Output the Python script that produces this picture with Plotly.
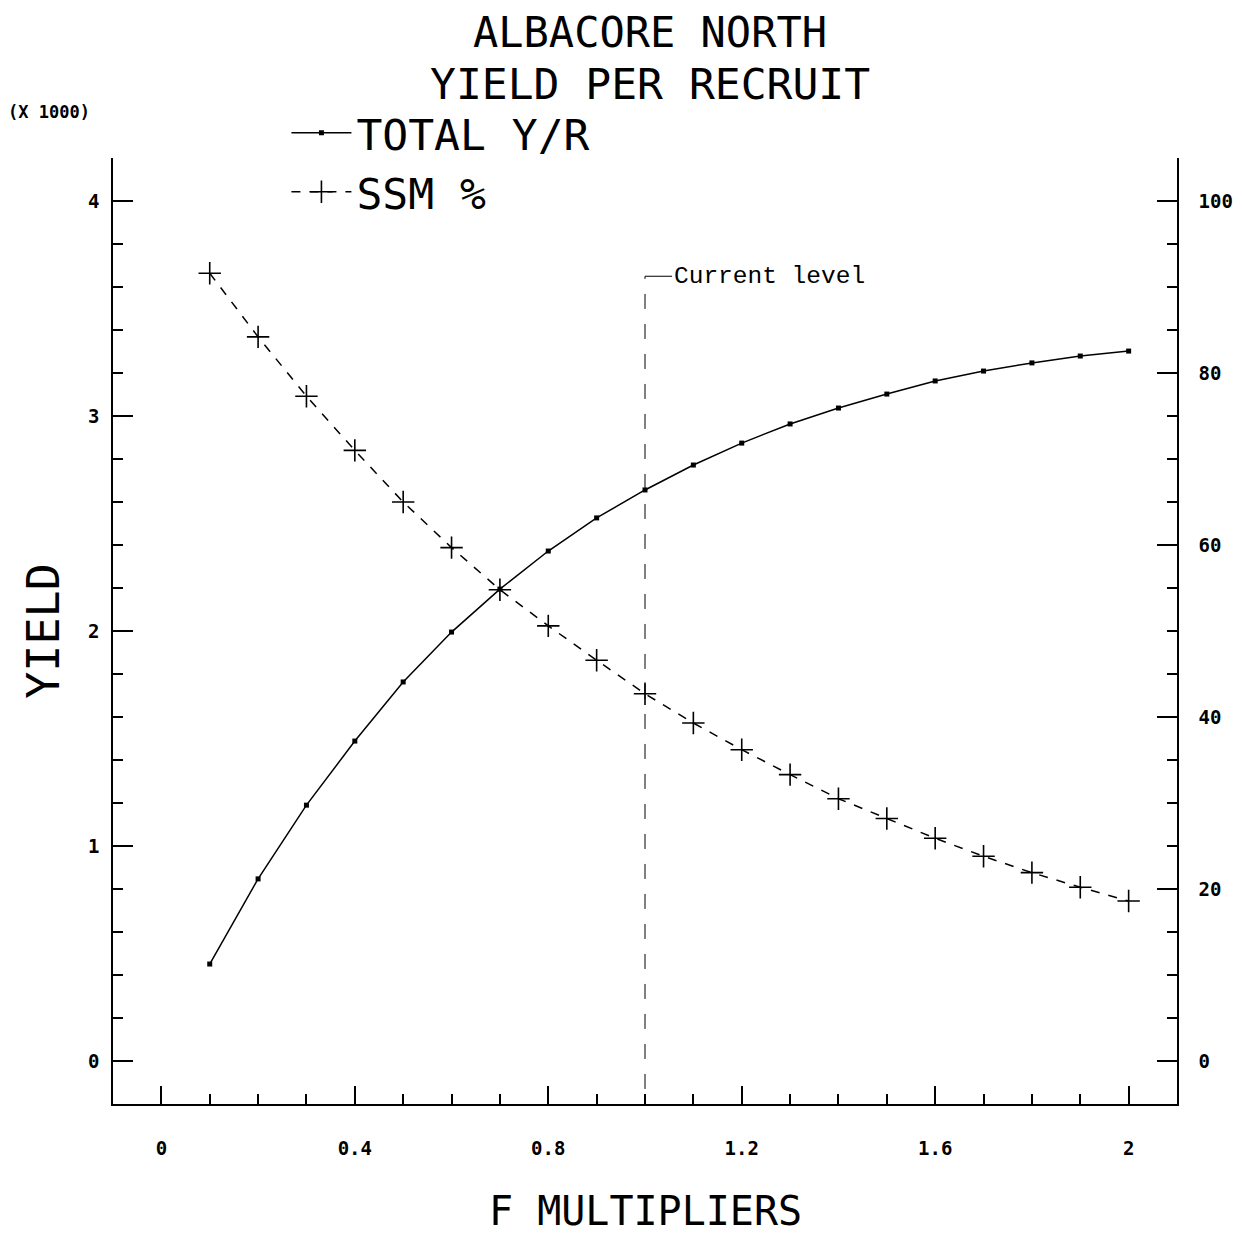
import plotly.graph_objects as go

# ---- data ----
f_mult = [0.1, 0.2, 0.3, 0.4, 0.5, 0.6, 0.7, 0.8, 0.9, 1.0,
          1.1, 1.2, 1.3, 1.4, 1.5, 1.6, 1.7, 1.8, 1.9, 2.0]
total_yr = [0.451, 0.847, 1.19, 1.488, 1.763, 1.995, 2.195, 2.372, 2.526, 2.656,
            2.772, 2.874, 2.963, 3.037, 3.102, 3.163, 3.209, 3.247, 3.279, 3.302]
ssm_pct = [91.6, 84.2, 77.3, 71.0, 65.0, 59.7, 54.8, 50.6, 46.6, 42.7,
           39.3, 36.2, 33.3, 30.5, 28.2, 25.9, 23.8, 21.9, 20.2, 18.6]
x_ticks = [0, 0.4, 0.8, 1.2, 1.6, 2]
x_tick_labels = ["0", "0.4", "0.8", "1.2", "1.6", "2"]
y_ticks = [0, 1, 2, 3, 4]
y_tick_labels = ["0", "1", "2", "3", "4"]
y2_ticks = [0, 20, 40, 60, 80, 100]
y2_tick_labels = ["0", "20", "40", "60", "80", "100"]
current_level = 1.0
current_top = 3.65
current_bottom = -0.13

BIG = "DejaVu Sans Mono"
TICKF = dict(family="DejaVu Sans Mono", size=19, color="black", weight="bold")

# page body has an 8px margin; figure is sized so the plot sits where the reference has it
W = H = 1226

fig = go.Figure()
fig.add_trace(go.Scatter(
    x=f_mult, y=total_yr, name="TOTAL Y/R", mode="lines+markers",
    line=dict(color="black", width=1.5),
    marker=dict(symbol="square", size=5, color="black"),
))
fig.add_trace(go.Scatter(
    x=f_mult, y=ssm_pct, name="SSM %", mode="lines+markers", yaxis="y2",
    line=dict(color="black", width=1.5, dash="dash"),
    marker=dict(symbol="cross-thin", size=16, line=dict(color="black", width=1.6)),
))

# current level marker line
fig.add_shape(type="line", xref="x", yref="y",
              x0=current_level, x1=current_level, y0=current_bottom, y1=current_top,
              line=dict(color="black", width=1, dash="longdash"))
fig.add_shape(type="line", xref="x", yref="y",
              x0=current_level, x1=current_level + 0.056, y0=current_top, y1=current_top,
              line=dict(color="black", width=1))
fig.add_annotation(x=current_level + 0.056, y=current_top, xref="x", yref="y",
                   text="Current level", showarrow=False, xanchor="left", yanchor="middle",
                   font=dict(family="Liberation Mono", size=24.5, color="black"))

axis_common = dict(showline=True, linecolor="black", linewidth=1.5, mirror=False,
                   showgrid=False, zeroline=False, ticks="inside", tickcolor="black",
                   tickwidth=1.5, tickfont=TICKF, automargin=False)

fig.update_layout(
    width=W, height=H,
    paper_bgcolor="white", plot_bgcolor="white",
    margin=dict(l=105, r=57, t=150, b=130, autoexpand=False),
    showlegend=True,
    legend=dict(x=0.163, y=1.063, xanchor="left", yanchor="top",
                font=dict(family=BIG, size=43, color="black"),
                bgcolor="rgba(0,0,0,0)", itemwidth=60, tracegroupgap=0),
    xaxis=dict(range=[-0.1, 2.1], tickvals=x_ticks, ticktext=x_tick_labels,
               ticklen=18, ticklabelstandoff=26,
               minor=dict(dtick=0.1, tick0=0, ticks="inside", ticklen=10,
                          tickcolor="black", tickwidth=1.5),
               **axis_common),
    yaxis=dict(range=[-0.2, 4.2], tickvals=y_ticks, ticktext=y_tick_labels,
               ticklen=20, ticklabelstandoff=8,
               minor=dict(dtick=0.2, tick0=0, ticks="inside", ticklen=10,
                          tickcolor="black", tickwidth=1.5),
               title=dict(text="YIELD", font=dict(family=BIG, size=45, color="black"),
                          standoff=14),
               **axis_common),
    yaxis2=dict(range=[-5, 105], tickvals=y2_ticks, ticktext=y2_tick_labels,
                overlaying="y", side="right", anchor="x",
                ticklen=20, ticklabelstandoff=16,
                minor=dict(dtick=5, tick0=0, ticks="inside", ticklen=10,
                           tickcolor="black", tickwidth=1.5),
                **axis_common),
)

# titles (paper coords: plot area spans 1064 x 946 px)
fig.add_annotation(xref="paper", yref="paper", x=0.505, y=(1104 - 33) / 946,
                   text="ALBACORE NORTH", showarrow=False, xanchor="center", yanchor="middle",
                   font=dict(family=BIG, size=42, color="black"))
fig.add_annotation(xref="paper", yref="paper", x=0.505, y=(1104 - 84) / 946,
                   text="YIELD PER RECRUIT", showarrow=False, xanchor="center", yanchor="middle",
                   font=dict(family=BIG, size=43, color="black"))
fig.add_annotation(xref="paper", yref="paper", x=(6 - 113) / 1064, y=(1104 - 112) / 946,
                   text="(X 1000)", showarrow=False, xanchor="left", yanchor="middle",
                   font=dict(family="DejaVu Sans Mono", size=17, color="black", weight="bold"))
fig.add_annotation(xref="paper", yref="paper", x=(645 - 113) / 1064, y=(1104 - 1211) / 946,
                   text="F MULTIPLIERS", showarrow=False, xanchor="center", yanchor="middle",
                   font=dict(family=BIG, size=40, color="black"))

fig.write_html("out.html")
